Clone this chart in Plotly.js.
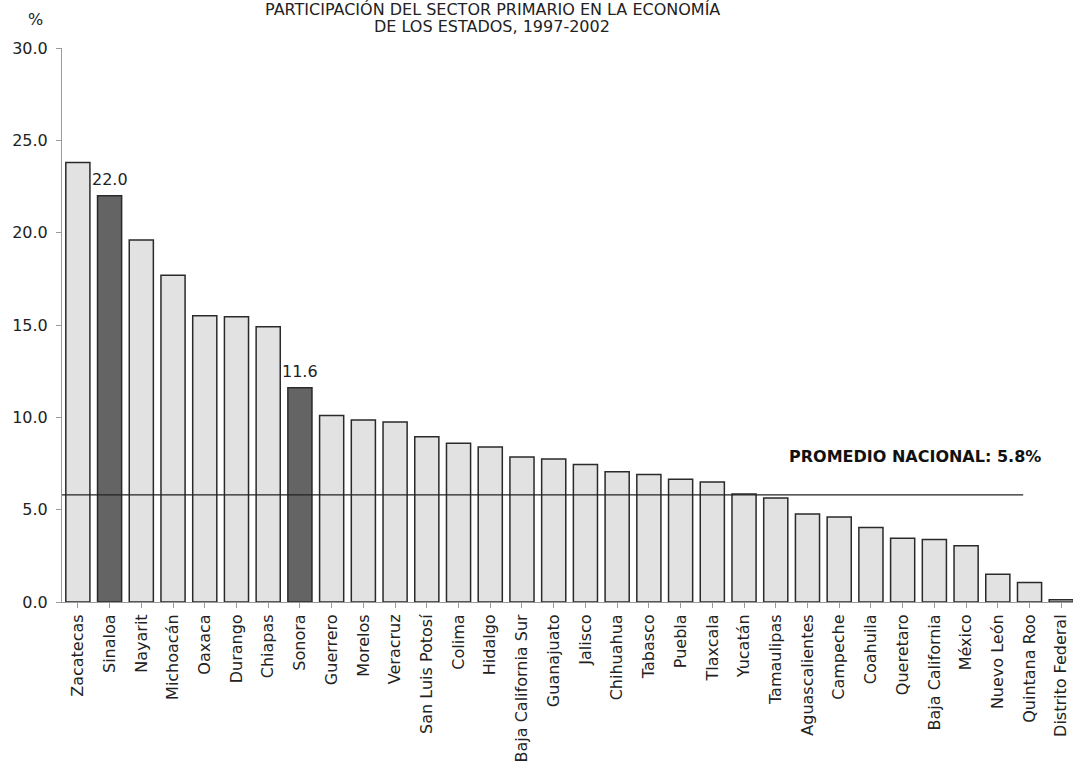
<!DOCTYPE html>
<html>
<head>
<meta charset="utf-8">
<script src="https://cdn.plot.ly/plotly-3.0.1.min.js"></script>
<style>
  html, body { margin: 0; padding: 0; background: #fff; }
  #chart { width: 1073px; height: 774px; }
</style>
</head>
<body>
<div id="chart"></div>
<script>
// Share of the primary sector in each state's economy, 1997-2002 (%)
const states = [
  "Zacatecas", "Sinaloa", "Nayarit", "Michoacán", "Oaxaca", "Durango", "Chiapas",
  "Sonora", "Guerrero", "Morelos", "Veracruz", "San Luis Potosí", "Colima", "Hidalgo",
  "Baja California Sur", "Guanajuato", "Jalisco", "Chihuahua", "Tabasco", "Puebla",
  "Tlaxcala", "Yucatán", "Tamaulipas", "Aguascalientes", "Campeche", "Coahuila",
  "Queretaro", "Baja California", "México", "Nuevo León", "Quintana Roo", "Distrito Federal"
];
const shares = [
  23.8, 22.0, 19.6, 17.7, 15.5, 15.45, 14.9,
  11.6, 10.1, 9.85, 9.75, 8.95, 8.6, 8.4,
  7.85, 7.75, 7.45, 7.05, 6.9, 6.65,
  6.5, 5.85, 5.63, 4.76, 4.6, 4.04,
  3.45, 3.39, 3.05, 1.5, 1.05, 0.12
];
// States drawn in dark grey, with their value written above the bar
const highlighted = ["Sinaloa", "Sonora"];
const nationalAverage = 5.8;
const averageLabel = "PROMEDIO NACIONAL: 5.8%";
const yTicks = [0, 5, 10, 15, 20, 25, 30];
const titleLines = ["PARTICIPACIÓN DEL SECTOR PRIMARIO EN LA ECONOMÍA", "DE LOS ESTADOS, 1997-2002"];

const FONT = "DejaVu Sans, Verdana, sans-serif";
const TEXT = "#222";
const AXIS = "#9a9a9a";

const fills = states.map(s => highlighted.includes(s) ? "#646464" : "#e2e2e2");
const xIdx = states.map((_, i) => i);

const bars = {
  type: "bar",
  x: xIdx,
  y: shares,
  width: 0.76,
  marker: { color: fills, line: { color: "#2a2a2a", width: 1.5 } },
  hoverinfo: "skip",
  showlegend: false
};

const valueNotes = highlighted.map(s => {
  const i = states.indexOf(s);
  return {
    x: i, y: shares[i], xref: "x", yref: "y",
    text: shares[i].toFixed(1),
    showarrow: false, yanchor: "bottom", yshift: 5,
    font: { family: FONT, size: 16, color: TEXT }
  };
});

const lastX = states.length - 1;
// pixel helpers for placing text in the top margin
const PLOT_L = 62, PLOT_W = 1011, PLOT_B = 602, PLOT_H = 554;
const px = x => (x - PLOT_L) / PLOT_W;
const py = y => (PLOT_B - y) / PLOT_H;

const layout = {
  width: 1073,
  height: 774,
  paper_bgcolor: "#fff",
  plot_bgcolor: "#fff",
  margin: { l: 62, r: 0, t: 48, b: 172, pad: 0 },
  xaxis: {
    range: [-0.5, lastX + 0.37],
    tickmode: "array",
    tickvals: xIdx,
    ticktext: states,
    tickangle: -90,
    tickson: "boundaries",
    ticks: "outside",
    ticklen: 5,
    tickcolor: AXIS,
    showline: true,
    linecolor: AXIS,
    linewidth: 1,
    showgrid: false,
    zeroline: false,
    tickfont: { family: FONT, size: 16, color: TEXT },
    fixedrange: true
  },
  yaxis: {
    range: [0, 30],
    tickmode: "array",
    tickvals: yTicks,
    ticktext: yTicks.map(v => v.toFixed(1)),
    ticks: "outside",
    ticklen: 5,
    tickcolor: AXIS,
    ticklabelstandoff: 5,
    showline: true,
    linecolor: AXIS,
    linewidth: 1,
    showgrid: false,
    zeroline: false,
    tickfont: { family: FONT, size: 16, color: TEXT },
    fixedrange: true
  },
  shapes: [{
    type: "line", xref: "x", yref: "y",
    x0: -0.5, x1: lastX - 1.2,
    y0: nationalAverage, y1: nationalAverage,
    line: { color: "#222", width: 1.3 }
  }],
  annotations: [
    {
      text: titleLines[0], xref: "paper", yref: "paper",
      x: px(492), y: py(9), xanchor: "center", yanchor: "middle",
      showarrow: false, font: { family: FONT, size: 16, color: TEXT }
    },
    {
      text: titleLines[1], xref: "paper", yref: "paper",
      x: px(492), y: py(26), xanchor: "center", yanchor: "middle",
      showarrow: false, font: { family: FONT, size: 16, color: TEXT }
    },
    {
      text: "%", xref: "paper", yref: "paper",
      x: px(35), y: py(20), xanchor: "center", yanchor: "middle",
      showarrow: false, font: { family: FONT, size: 16, color: TEXT }
    },
    {
      text: "<b>" + averageLabel + "</b>", xref: "paper", yref: "y",
      x: px(1043), y: nationalAverage, yshift: 38,
      xanchor: "right", yanchor: "middle",
      showarrow: false, font: { family: FONT, size: 16, color: "#111" }
    },
    ...valueNotes
  ]
};

Plotly.newPlot("chart", [bars], layout, { staticPlot: true, displayModeBar: false });
</script>
</body>
</html>
